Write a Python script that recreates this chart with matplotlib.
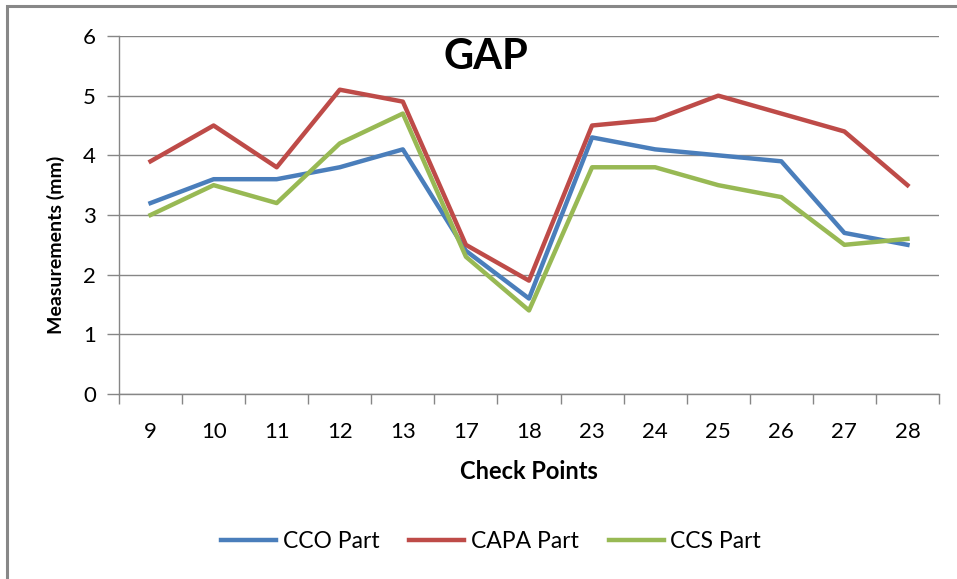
import matplotlib
matplotlib.use("Agg")
from matplotlib import pyplot as plt
from matplotlib.patches import Rectangle

# chart data
check_points = ["9", "10", "11", "12", "13", "17", "18", "23", "24", "25", "26", "27", "28"]
cco_part = [3.2, 3.6, 3.6, 3.8, 4.1, 2.4, 1.6, 4.3, 4.1, 4.0, 3.9, 2.7, 2.5]
capa_part = [3.9, 4.5, 3.8, 5.1, 4.9, 2.5, 1.9, 4.5, 4.6, 5.0, 4.7, 4.4, 3.5]
ccs_part = [3.0, 3.5, 3.2, 4.2, 4.7, 2.3, 1.4, 3.8, 3.8, 3.5, 3.3, 2.5, 2.6]
y_ticks = [0, 1, 2, 3, 4, 5, 6]

plt.rcParams["font.family"] = ["Lato", "DejaVu Sans"]
grid_grey = "#868686"

fig = plt.figure(figsize=(9.57, 5.79), dpi=100)
ax = fig.add_axes([119 / 957, 1 - 394 / 579, 820 / 957, 358 / 579])

x = range(len(check_points))
ax.plot(x, cco_part, color="#4A7EBB", linewidth=3.2, label="CCO Part")
ax.plot(x, capa_part, color="#BE4B48", linewidth=3.2, label="CAPA Part")
ax.plot(x, ccs_part, color="#98B954", linewidth=3.2, label="CCS Part")

ax.set_xlim(-0.5, len(check_points) - 0.5)
ax.set_ylim(0, 6)
ax.set_yticks(y_ticks)
ax.set_xticks(list(x))
ax.set_xticklabels(check_points)
ax.set_xticks([i - 0.5 for i in range(len(check_points) + 1)], minor=True)

ax.yaxis.grid(True, color=grid_grey, linewidth=1.0)
ax.set_axisbelow(True)
for side in ["top", "right"]:
    ax.spines[side].set_visible(False)
for side in ["left", "bottom"]:
    ax.spines[side].set_color(grid_grey)
    ax.spines[side].set_linewidth(1.0)

ax.tick_params(axis="y", length=9, width=1.0, color=grid_grey, pad=7.5, labelsize=16)
ax.tick_params(axis="x", which="major", length=0, pad=20.5, labelsize=16)
ax.tick_params(axis="x", which="minor", length=7, width=1.0, color=grid_grey)

ax.set_ylabel("Measurements (mm)", fontsize=14, fontweight="bold")
ax.yaxis.set_label_coords(-0.0659, 0.416)
ax.set_xlabel("Check Points", fontsize=17, fontweight="bold")
ax.xaxis.set_label_coords(0.5, -0.184)

ax.text(0.4476, 0.941, "GAP", transform=ax.transAxes, fontsize=30,
        fontweight="bold", ha="center", va="center")

fig.legend(loc="center", bbox_to_anchor=(491 / 957, 1 - 542 / 579), ncol=3,
           frameon=False, fontsize=16.5, handlelength=2.4, handletextpad=0.3,
           columnspacing=1.3)

# outer chart frame, cut off at right and bottom like the source
fig.add_artist(Rectangle((7 / 957, -0.1), 1.2, 0.1 + (579 - 6) / 579,
                         transform=fig.transFigure, fill=False,
                         edgecolor="#888888", linewidth=2.2))

plt.savefig("out.png", dpi=100)
